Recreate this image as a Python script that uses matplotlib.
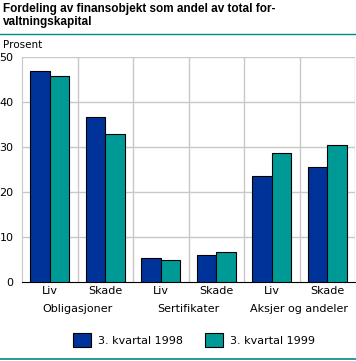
import numpy as np
import matplotlib.pyplot as plt
from matplotlib.patches import Patch
from matplotlib.lines import Line2D

# data
sub_labels = ["Liv", "Skade", "Liv", "Skade", "Liv", "Skade"]
groups = ["Obligasjoner", "Sertifikater", "Aksjer og andeler"]
v1998 = [46.9, 36.6, 5.3, 6.0, 23.5, 25.6]
v1999 = [45.7, 32.8, 4.9, 6.65, 28.6, 30.4]
series = ["3. kvartal 1998", "3. kvartal 1999"]
colors = ["#003399", "#009a96"]

W, H = 356, 361
fig = plt.figure(figsize=(W / 100, H / 100), dpi=100)

# axes in pixel coordinates
l, r, t, b = 22, 355, 57, 282
ax = fig.add_axes([l / W, 1 - b / H, (r - l) / W, (b - t) / H])

x = np.arange(len(sub_labels))
bw = 0.35
ax.bar(x - bw / 2, v1998, bw, color=colors[0], edgecolor="black", lw=0.8, zorder=3)
ax.bar(x + bw / 2, v1999, bw, color=colors[1], edgecolor="black", lw=0.8, zorder=3)

ax.set_xlim(-0.5, len(x) - 0.5)
ax.set_ylim(0, 50)
ax.set_yticks(range(0, 51, 10))
ax.tick_params(axis="y", length=0, labelsize=8, pad=6)
ax.set_xticks(x)
ax.set_xticklabels(sub_labels, fontsize=8)
ax.tick_params(axis="x", length=0, pad=3)

# grid
for yv in range(10, 51, 10):
    ax.axhline(yv, color="#c8c8c8", lw=1, zorder=1)
for xv in np.arange(0.5, len(x) - 0.5, 1):
    ax.axvline(xv, color="#c8c8c8", lw=1, zorder=1)
ax.axvline(len(x) - 0.5, color="#c8c8c8", lw=1, zorder=1)
for s in ["top", "right"]:
    ax.spines[s].set_visible(False)
ax.spines["left"].set_color("#c8c8c8")
ax.spines["bottom"].set_color("black")

# group labels
for i, g in enumerate(groups):
    ax.text(2 * i + 0.5, -0.1, g, transform=ax.get_xaxis_transform(),
            ha="center", va="top", fontsize=8)

# title and unit
fig.text(3 / W, 1 - 3 / H, "Fordeling av finansobjekt som andel av total for-\nvaltningskapital",
         ha="left", va="top", fontsize=8.5, family="Liberation Sans",
         fontweight="bold", linespacing=1.1)
fig.add_artist(Line2D([0, 1], [1 - 33.5 / H] * 2, color="#008b8b", lw=1))
fig.text(3 / W, 1 - 45 / H, "Prosent", ha="left", va="center", fontsize=7.5)

# legend
handles = [Patch(facecolor=c, edgecolor="black", lw=0.8) for c in colors]
fig.legend(handles, series, loc="center", bbox_to_anchor=(0.545, 1 - 340 / H),
           ncol=2, frameon=False, fontsize=8, handlelength=1.6, handleheight=1.6,
           columnspacing=2.0, handletextpad=0.6)
fig.add_artist(Line2D([0, 1], [1 - 359 / H] * 2, color="#008b8b", lw=1.2))

fig.savefig("out.png", dpi=100)
